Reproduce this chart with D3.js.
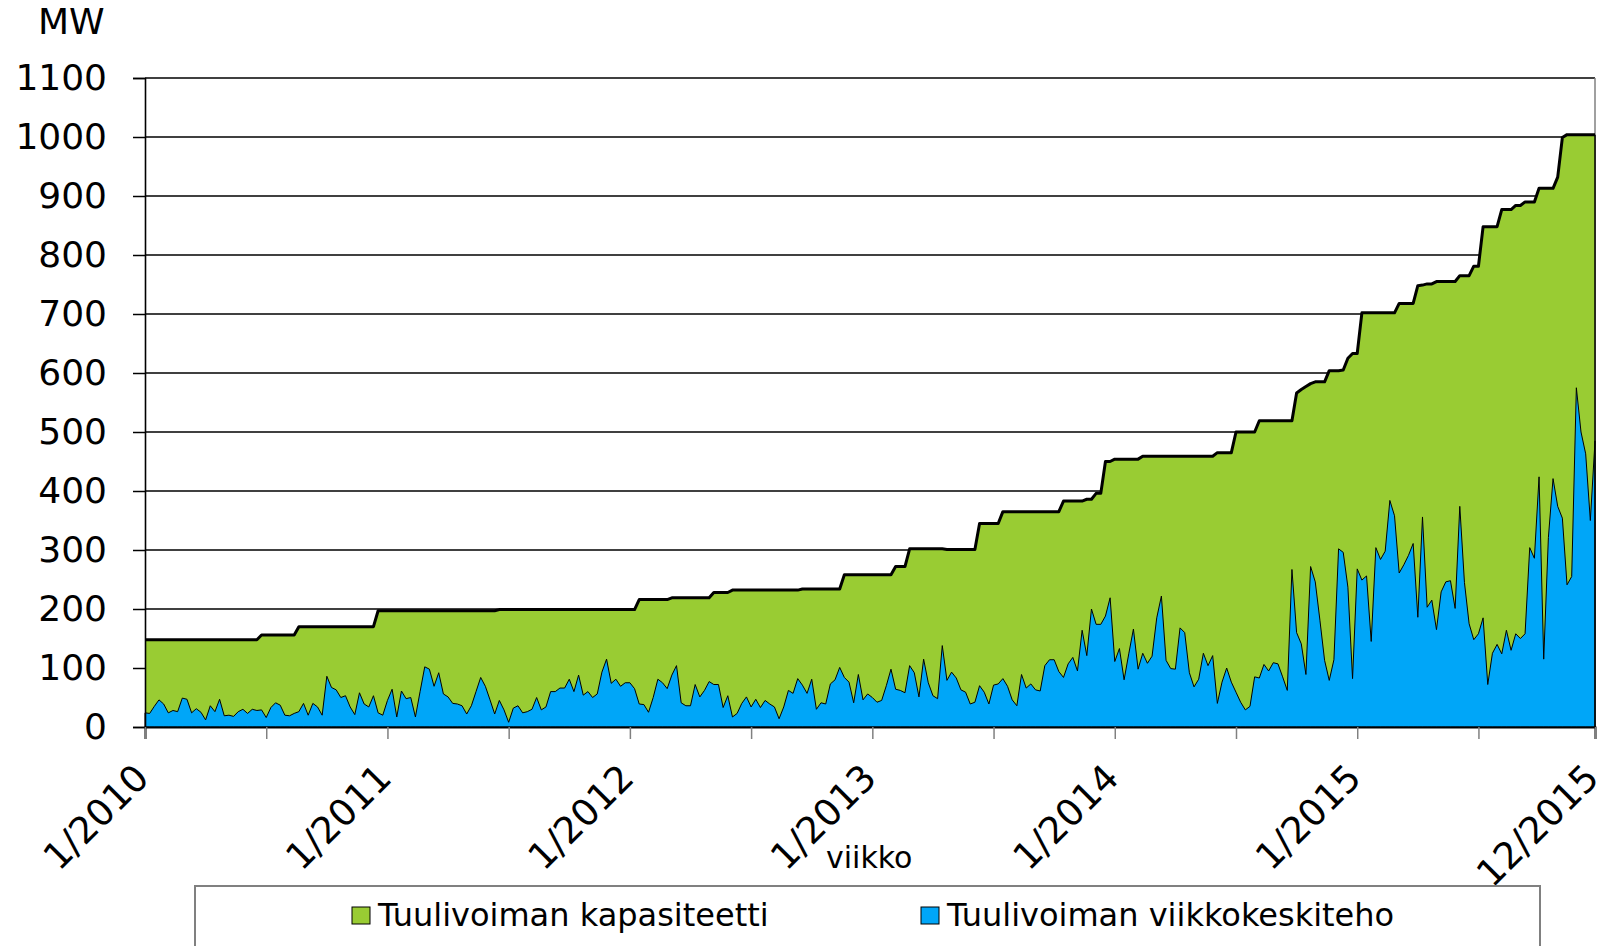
<!DOCTYPE html>
<html>
<head>
<meta charset="utf-8">
<script src="https://cdn.jsdelivr.net/npm/d3@7"></script>
<style>
    html, body { margin: 0; padding: 0; background: #fff; }
    svg text { font-family: 'DejaVu Sans', Verdana, sans-serif; fill: #000; }
</style>
</head>
<body>
<div id="chart"></div>
<script>
//Colores fijos
const COLOR_CAPACIDAD = '#99CC33',
COLOR_TEHO = '#00A6F8';

//Datos: una posición por semana desde la semana 1/2010
const kapasiteetti = [
    148,148,148,148,148,148,148,148,148,148,148,148,148,148,148,148,148,148,148,148,
    148,148,148,148,148,156,156,156,156,156,156,156,156,170,170,170,170,170,170,170,
    170,170,170,170,170,170,170,170,170,170,197,197,197,197,197,197,197,197,197,197,
    197,197,197,197,197,197,197,197,197,197,197,197,197,197,197,197,199,199,199,199,
    199,199,199,199,199,199,199,199,199,199,199,199,199,199,199,199,199,199,199,199,
    199,199,199,199,199,199,216,216,216,216,216,216,216,219,219,219,219,219,219,219,
    219,219,228,228,228,228,232,232,232,232,232,232,232,232,232,232,232,232,232,232,
    232,234,234,234,234,234,234,234,234,234,258,258,258,258,258,258,258,258,258,258,
    258,272,272,272,302,302,302,302,302,302,302,302,301,301,301,301,301,301,301,345,
    345,345,345,345,365,365,365,365,365,365,365,365,365,365,365,365,365,383,383,383,
    383,383,386,386,396,396,450,450,454,454,454,454,454,454,459,459,459,459,459,459,
    459,459,459,459,459,459,459,459,459,459,465,465,465,465,500,500,500,500,500,519,
    519,519,519,519,519,519,519,566,572,577,582,585,585,585,604,604,604,605,625,633,
    633,702,702,702,702,702,702,702,702,718,718,718,718,748,749,751,751,755,755,755,
    755,755,765,765,765,781,781,848,848,848,848,877,877,877,884,884,890,890,890,913,
    913,913,913,932,999,1004,1004,1004,1004,1004,1004,1004
];

const viikkokeskiteho = [
    24,23,35,46,39,24,28,26,49,47,24,31,25,12,36,26,47,19,20,18,
    26,30,23,30,28,29,16,33,41,37,20,19,23,26,40,20,40,34,20,86,
    67,63,50,53,34,21,58,39,34,53,24,20,45,64,17,61,48,50,17,60,
    102,98,69,92,56,51,40,39,36,22,36,60,84,69,46,22,45,29,8,32,
    36,24,26,30,50,29,34,60,60,66,66,81,60,88,54,60,50,56,93,115,
    74,81,69,75,75,65,39,38,25,50,81,75,65,88,104,41,36,36,72,51,
    62,77,72,72,33,53,17,23,40,51,34,47,33,45,39,34,14,34,62,57,
    82,71,57,81,30,41,39,73,80,101,84,76,41,89,46,56,50,42,45,70,
    98,64,62,58,104,92,51,115,75,53,48,138,79,93,83,63,59,39,42,70,
    59,39,71,73,82,69,46,36,89,66,73,63,61,104,114,114,94,84,107,118,
    95,164,121,200,174,174,188,219,111,133,80,124,166,98,125,108,120,185,222,113,
    99,98,168,160,92,68,81,125,104,121,40,76,100,76,59,42,29,35,85,83,
    106,95,109,107,85,62,267,160,141,89,272,246,181,113,79,114,302,296,237,82,
    268,249,256,145,304,284,298,384,358,261,275,291,311,186,356,203,215,165,229,246,
    248,201,374,245,175,148,158,185,72,125,140,124,164,130,158,150,158,304,286,424,
    115,321,421,374,354,241,255,575,500,463,350,485
];

//Etiquetas del eje X (semana índice -> texto)
const tickSemanas = [0, 26, 52, 78, 104, 130, 156, 182, 208, 234, 260, 286, 311];
const labelSemanas = [0, 52, 104, 156, 208, 260, 311];
const labelTextos = ['1/2010', '1/2011', '1/2012', '1/2013', '1/2014', '1/2015', '12/2015'];
const yTicks = [0, 100, 200, 300, 400, 500, 600, 700, 800, 900, 1000, 1100];

const series = ['Tuulivoiman kapasiteetti', 'Tuulivoiman viikkokeskiteho'];

/// ELEMENTOS GENÉRICOS
let margin = {top: 78, right: 15, bottom: 219, left: 145},
    fullWidth = 1610, fullHeight = 946,
    width = fullWidth - margin.left - margin.right,
    height = fullHeight - margin.top - margin.bottom;

let root = d3.select('#chart')
    .append('svg')
        .attr('width', fullWidth)
        .attr('height', fullHeight);

root.append('rect')
    .attr('width', fullWidth)
    .attr('height', fullHeight)
    .attr('fill', '#fff');

let svg = root.append('g')
    .attr('transform', 'translate(' + margin.left + ',' + margin.top + ')');

let semanas = kapasiteetti.map(function(d, i) { return i; });

let x = d3.scaleLinear()
    .domain([0, semanas.length - 1])
    .range([0, width]);

let y = d3.scaleLinear()
    .domain([0, 1100])
    .range([height, 0]);

//Líneas de rejilla
svg.append('g')
    .selectAll('line')
    .data(yTicks)
    .enter()
    .append('line')
    .attr('x1', 0)
    .attr('x2', width)
    .attr('y1', function(d) { return y(d); })
    .attr('y2', function(d) { return y(d); })
    .attr('stroke', '#000')
    .attr('stroke-width', 1.6);

//Borde derecho del área
svg.append('line')
    .attr('x1', width).attr('x2', width)
    .attr('y1', 0).attr('y2', height)
    .attr('stroke', '#808080')
    .attr('stroke-width', 1.5);

//Áreas
let areaCap = d3.area()
    .x(function(d, i) { return x(i); })
    .y0(y(0))
    .y1(function(d) { return y(d); });

svg.append('path')
    .datum(kapasiteetti)
    .attr('d', areaCap)
    .attr('fill', COLOR_CAPACIDAD)
    .attr('stroke', 'none');

svg.append('path')
    .datum(viikkokeskiteho)
    .attr('d', areaCap)
    .attr('fill', COLOR_TEHO)
    .attr('stroke', '#000')
    .attr('stroke-width', 1)
    .attr('stroke-linejoin', 'round');

let lineCap = d3.line()
    .x(function(d, i) { return x(i); })
    .y(function(d) { return y(d); });

svg.append('path')
    .datum(kapasiteetti)
    .attr('d', lineCap)
    .attr('fill', 'none')
    .attr('stroke', '#000')
    .attr('stroke-width', 3)
    .attr('stroke-linejoin', 'round');

//Borde derecho de la capacidad
svg.append('line')
    .attr('x1', width).attr('x2', width)
    .attr('y1', y(kapasiteetti[kapasiteetti.length - 1]))
    .attr('y2', height)
    .attr('stroke', '#000')
    .attr('stroke-width', 1.5);

//Eje Y
let yAxis = function(g) {
    g.call(d3.axisLeft(y).tickValues(yTicks).tickSize(12).tickPadding(26).tickFormat(d3.format('d')));
    g.call(function(g) { g.select('.domain').attr('stroke', '#000').attr('stroke-width', 1.6); });
    g.call(function(g) { g.selectAll('.tick line').attr('stroke', '#000').attr('stroke-width', 1.5); });
    g.call(function(g) {
        g.selectAll('.tick text')
            .attr('font-size', '36px')
            .attr('font-family', "'DejaVu Sans', Verdana, sans-serif")
            .attr('fill', '#000');
    });
}

svg.append('g')
    .attr('class', 'yaxis')
    .call(yAxis);

//Eje X
let xAxis = function(g) {
    g.call(d3.axisBottom(x).tickValues(tickSemanas).tickSize(12).tickFormat(''));
    g.call(function(g) { g.select('.domain').attr('stroke', '#000').attr('stroke-width', 2); });
    g.call(function(g) { g.selectAll('.tick line').attr('stroke', '#808080').attr('stroke-width', 1.5); });
}

svg.append('g')
    .attr('class', 'xaxis')
    .attr('transform', 'translate(0,' + height + ')')
    .call(xAxis);

svg.append('g')
    .selectAll('text')
    .data(labelSemanas)
    .enter()
    .append('text')
    .attr('transform', function(d) { return 'translate(' + (x(d) + 6) + ',' + (height + 53) + ') rotate(-45)'; })
    .attr('text-anchor', 'end')
    .attr('font-size', '37px')
    .text(function(d, i) { return labelTextos[i]; });

//Títulos de ejes
root.append('text')
    .attr('x', 38)
    .attr('y', 34)
    .attr('font-size', '36px')
    .text('MW');

root.append('text')
    .attr('x', 826)
    .attr('y', 868)
    .attr('font-size', '30px')
    .text('viikko');

//Leyenda
let legend = root.append('g');

legend.append('rect')
    .attr('x', 195)
    .attr('y', 886)
    .attr('width', 1345)
    .attr('height', 80)
    .attr('fill', '#fff')
    .attr('stroke', '#808080')
    .attr('stroke-width', 2);

let legendX = [352, 921],
    legendColors = [COLOR_CAPACIDAD, COLOR_TEHO];

let items = legend.selectAll('.item')
    .data(series)
    .enter()
    .append('g')
    .attr('class', 'item')
    .attr('transform', function(d, i) { return 'translate(' + legendX[i] + ',0)'; });

items.append('rect')
    .attr('x', 0)
    .attr('y', 907)
    .attr('width', 18)
    .attr('height', 17)
    .attr('fill', function(d, i) { return legendColors[i]; })
    .attr('stroke', '#000')
    .attr('stroke-width', 1);

items.append('text')
    .attr('x', 26)
    .attr('y', 926)
    .attr('font-size', '32px')
    .text(function(d) { return d; });
</script>
</body>
</html>
